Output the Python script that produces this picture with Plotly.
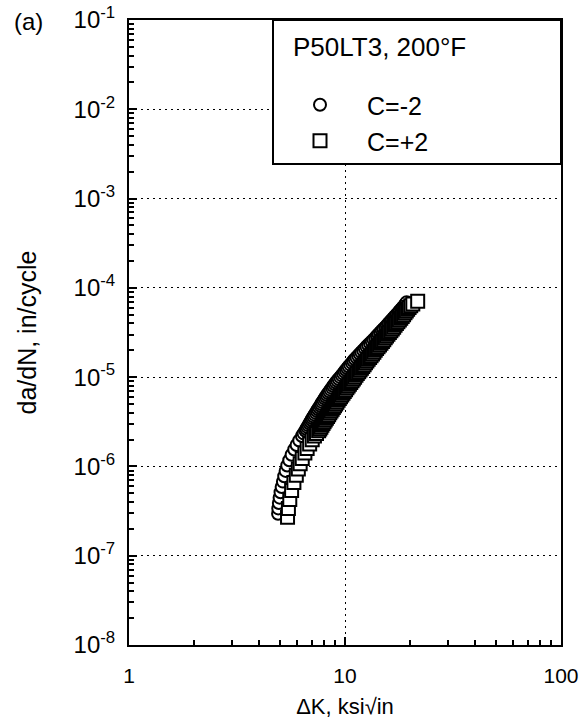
import plotly.graph_objects as go

# C = -2 (circles): delta K (ksi*sqrt(in)) and da/dN (in/cycle)
dk_cm2 = [4.90, 4.91, 4.94, 4.98, 5.03, 5.09, 5.16, 5.23, 5.31, 5.40, 5.52, 5.66,
          5.82, 5.97, 6.14, 6.32, 6.43,
          6.55, 6.62, 6.70, 6.77, 6.85, 6.92, 7.00, 7.07, 7.15, 7.23, 7.32, 7.41,
          7.50, 7.59, 7.68, 7.76, 7.85, 7.95, 8.05, 8.15, 8.25, 8.36, 8.47, 8.58,
          8.70, 8.82, 8.95, 9.07, 9.20, 9.35,
          9.50, 9.65, 9.80, 9.95, 10.1, 10.25, 10.4, 10.57, 10.75, 10.92, 11.1, 11.3,
          11.5, 11.7, 11.9, 12.12, 12.35, 12.57, 12.8, 13.05, 13.3, 13.55, 13.8, 14.05,
          14.3, 14.55, 14.8, 15.07, 15.35, 15.62, 15.9, 16.17, 16.45, 16.72, 17.0, 17.3,
          17.6, 17.9, 18.2, 18.5, 18.8, 19.05, 19.3]
dadn_cm2 = [2.95e-7, 3.39e-7, 3.89e-7, 4.47e-7, 5.13e-7, 5.89e-7, 6.76e-7, 7.76e-7, 8.91e-7,
            1.023e-6, 1.175e-6, 1.349e-6, 1.549e-6, 1.738e-6, 1.950e-6, 2.188e-6, 2.344e-6,
            2.512e-6, 2.630e-6, 2.754e-6, 2.884e-6, 3.020e-6, 3.162e-6, 3.311e-6, 3.467e-6,
            3.631e-6, 3.802e-6, 3.981e-6, 4.169e-6, 4.365e-6, 4.571e-6, 4.786e-6, 5.012e-6,
            5.248e-6, 5.495e-6, 5.754e-6, 6.026e-6, 6.310e-6, 6.607e-6, 6.918e-6, 7.244e-6,
            7.586e-6, 7.943e-6, 8.318e-6, 8.710e-6, 9.120e-6, 9.550e-6,
            1.000e-5, 1.047e-5, 1.096e-5, 1.148e-5, 1.202e-5, 1.259e-5, 1.318e-5, 1.380e-5,
            1.445e-5, 1.514e-5, 1.585e-5, 1.660e-5, 1.738e-5, 1.820e-5, 1.905e-5, 1.995e-5,
            2.089e-5, 2.188e-5, 2.291e-5, 2.399e-5, 2.512e-5, 2.630e-5, 2.754e-5, 2.884e-5,
            3.020e-5, 3.162e-5, 3.311e-5, 3.467e-5, 3.631e-5, 3.802e-5, 3.981e-5, 4.169e-5,
            4.365e-5, 4.571e-5, 4.786e-5, 5.012e-5, 5.248e-5, 5.495e-5, 5.754e-5, 6.026e-5,
            6.310e-5, 6.607e-5, 6.918e-5]

# C = +2 (squares)
dk_cp2 = [5.42, 5.47, 5.55, 5.66, 5.80, 5.95, 6.08, 6.20, 6.34, 6.52, 6.68, 6.86,
          7.05, 7.22, 7.38,
          7.55, 7.64, 7.73, 7.82, 7.91, 8.00, 8.10, 8.20, 8.30, 8.40, 8.50, 8.61,
          8.72, 8.83, 8.94, 9.05, 9.17, 9.29, 9.41, 9.53, 9.66, 9.79, 9.92, 10.06,
          10.2, 10.34, 10.48, 10.63, 10.78, 10.93,
          11.08, 11.24, 11.4, 11.57, 11.74, 11.91, 12.08, 12.26, 12.44, 12.62, 12.8, 13.0,
          13.2, 13.4, 13.6, 13.8, 14.0, 14.22, 14.45, 14.67, 14.9, 15.12, 15.35, 15.57,
          15.8, 16.05, 16.3, 16.55, 16.8, 17.05, 17.3, 17.57, 17.85, 18.12, 18.4, 18.67,
          18.95, 19.22, 19.5, 19.8, 20.15, 20.6, 21.7]
dadn_cp2 = [2.69e-7, 3.39e-7, 4.27e-7, 5.37e-7, 6.61e-7, 7.94e-7, 9.33e-7, 1.072e-6,
            1.230e-6, 1.413e-6, 1.585e-6, 1.778e-6, 1.995e-6, 2.188e-6, 2.344e-6,
            2.512e-6, 2.630e-6, 2.754e-6, 2.884e-6, 3.020e-6, 3.162e-6, 3.311e-6, 3.467e-6,
            3.631e-6, 3.802e-6, 3.981e-6, 4.169e-6, 4.365e-6, 4.571e-6, 4.786e-6, 5.012e-6,
            5.248e-6, 5.495e-6, 5.754e-6, 6.026e-6, 6.310e-6, 6.607e-6, 6.918e-6, 7.244e-6,
            7.586e-6, 7.943e-6, 8.318e-6, 8.710e-6, 9.120e-6, 9.550e-6,
            1.000e-5, 1.047e-5, 1.096e-5, 1.148e-5, 1.202e-5, 1.259e-5, 1.318e-5, 1.380e-5,
            1.445e-5, 1.514e-5, 1.585e-5, 1.660e-5, 1.738e-5, 1.820e-5, 1.905e-5, 1.995e-5,
            2.089e-5, 2.188e-5, 2.291e-5, 2.399e-5, 2.512e-5, 2.630e-5, 2.754e-5, 2.884e-5,
            3.020e-5, 3.162e-5, 3.311e-5, 3.467e-5, 3.631e-5, 3.802e-5, 3.981e-5, 4.169e-5,
            4.365e-5, 4.571e-5, 4.786e-5, 5.012e-5, 5.248e-5, 5.495e-5, 5.754e-5, 6.026e-5,
            6.310e-5, 6.607e-5, 7.08e-5]

assert len(dk_cm2) == len(dadn_cm2), (len(dk_cm2), len(dadn_cm2))
assert len(dk_cp2) == len(dadn_cp2), (len(dk_cp2), len(dadn_cp2))

series_names = ["C=-2", "C=+2"]
legend_title = "P50LT3, 200°F"
panel_label = "(a)"

x_tickvals = [1, 10, 100]
x_ticktext = ["1", "10", "100"]
y_exponents = [-8, -7, -6, -5, -4, -3, -2, -1]
y_tickvals = [10.0 ** e for e in y_exponents]
y_ticktext = ["10<sup>%d</sup>" % e for e in y_exponents]

x_minor = [d * 10.0 ** p for p in range(0, 2) for d in range(2, 10)]
y_minor = [d * 10.0 ** p for p in range(-8, -1) for d in range(2, 10)]

FONT = "Liberation Sans, Arial, Helvetica, sans-serif"

fig = go.Figure()
fig.add_trace(go.Scatter(
    x=dk_cm2, y=dadn_cm2, mode="markers", name=series_names[0], legend="legend",
    marker=dict(symbol="circle", size=12, color="white",
                line=dict(color="black", width=2)),
))
fig.add_trace(go.Scatter(
    x=dk_cp2, y=dadn_cp2, mode="markers", name=series_names[1], legend="legend2",
    marker=dict(symbol="square", size=13, color="white",
                line=dict(color="black", width=2)),
))

axis_common = dict(
    type="log", showline=True, linecolor="black", linewidth=2, mirror=True,
    ticks="inside", ticklen=8, tickwidth=1.5, tickcolor="black",
    showgrid=True, gridcolor="black", gridwidth=1.2, griddash="2px,4px",
    zeroline=False, tickmode="array",
)

fig.update_xaxes(
    **axis_common, range=[0, 2], tickvals=x_tickvals, ticktext=x_ticktext,
    tickfont=dict(family=FONT, size=21, color="black"), ticklabelstandoff=11,
    minor=dict(tickmode="array", tickvals=x_minor, ticks="inside", ticklen=5,
               tickwidth=1.5, tickcolor="black", showgrid=False),
    title=dict(text="ΔK, ksi√in", font=dict(family=FONT, size=22, color="black"),
               standoff=12),
)
fig.update_yaxes(
    **axis_common, range=[-8, -1], tickvals=y_tickvals, ticktext=y_ticktext,
    tickfont=dict(family=FONT, size=24, color="black"), ticklabelstandoff=7,
    minor=dict(tickmode="array", tickvals=y_minor, ticks="inside", ticklen=5,
               tickwidth=1.5, tickcolor="black", showgrid=False),
    title=dict(text="da/dN, in/cycle", font=dict(family=FONT, size=25, color="black"),
               standoff=30),
)

L, R, T, B = 129, 26, 20, 82
W, H = 587, 727
pw, ph = W - L - R, H - T - B


def px_x(p):
    return (p - L) / pw


def px_y(p):
    return (H - B - p) / ph


legend_common = dict(
    x=px_x(273), xanchor="left", yanchor="middle", bgcolor="rgba(0,0,0,0)",
    borderwidth=0, itemwidth=84, visible=True,
    font=dict(family=FONT, size=25, color="black"),
)

fig.update_layout(
    width=W, height=H, margin=dict(l=L, r=R, t=T, b=B, autoexpand=False),
    paper_bgcolor="white", plot_bgcolor="white",
    font=dict(family=FONT, color="black"),
    showlegend=True,
    legend=dict(**legend_common, y=px_y(105)),
    legend2=dict(**legend_common, y=px_y(141)),
    shapes=[dict(type="rect", xref="paper", yref="paper",
                 x0=px_x(273), x1=1, y0=px_y(164), y1=1,
                 line=dict(color="black", width=2), fillcolor="white", layer="above")],
    annotations=[
        dict(text=legend_title, xref="paper", yref="paper", x=px_x(291), y=px_y(47),
             xanchor="left", yanchor="middle", showarrow=False,
             font=dict(family=FONT, size=26, color="black")),
        dict(text=panel_label, xref="paper", yref="paper", x=px_x(12), y=px_y(21),
             xanchor="left", yanchor="middle", showarrow=False,
             font=dict(family=FONT, size=24, color="black")),
    ],
)

fig.write_html("out.html")
